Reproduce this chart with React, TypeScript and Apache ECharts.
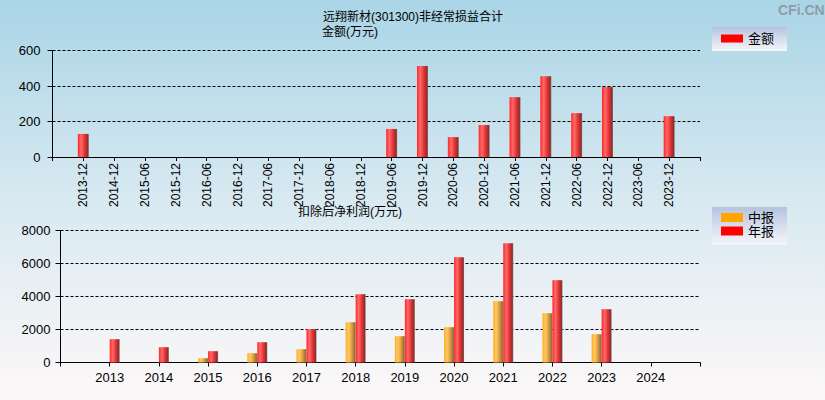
import React, { useEffect, useRef } from "react";
import * as echarts from "echarts";

const topCategories = [
  "2013-12", "2014-12", "2015-06", "2015-12", "2016-06", "2016-12", "2017-06",
  "2017-12", "2018-06", "2018-12", "2019-06", "2019-12", "2020-06", "2020-12",
  "2021-06", "2021-12", "2022-06", "2022-12", "2023-06", "2023-12",
];
const topValues: (number | null)[] = [
  130, null, null, null, null, null, null, null, null, null,
  158, 512, 112, 180, 337, 455, 247, 394, null, 230,
];
const bottomYears = ["2013", "2014", "2015", "2016", "2017", "2018", "2019", "2020", "2021", "2022", "2023", "2024"];
const interimValues: (number | null)[] = [null, null, 260, 564, 806, 2442, 1594, 2139, 3715, 2988, 1715, null];
const annualValues: (number | null)[] = [1412, 927, 685, 1230, 2018, 4139, 3836, 6382, 7230, 4988, 3230, null];
const topTicks = { min: 0, max: 600, interval: 200 };
const bottomTicks = { min: 0, max: 8000, interval: 2000 };

const FONT = "'Liberation Sans', Arial, 'Noto Sans CJK SC', sans-serif";

const redGrad = () =>
  new echarts.graphic.LinearGradient(0, 0, 1, 0, [
    { offset: 0, color: "#ff2626" },
    { offset: 0.3, color: "#ff6a6a" },
    { offset: 0.6, color: "#e63636" },
    { offset: 0.9, color: "#962a2a" },
    { offset: 1, color: "#7a7a7a" },
  ]);
const orangeGrad = () =>
  new echarts.graphic.LinearGradient(0, 0, 1, 0, [
    { offset: 0, color: "#ffae1e" },
    { offset: 0.3, color: "#ffc864" },
    { offset: 0.6, color: "#e0a040" },
    { offset: 0.9, color: "#9c7030" },
    { offset: 1, color: "#808080" },
  ]);
const legendBg = () =>
  new echarts.graphic.LinearGradient(0, 0, 0, 1, [
    { offset: 0, color: "#b6c3df" },
    { offset: 1, color: "#f6f6fa" },
  ]);

export default function App() {
  const ref = useRef<HTMLDivElement>(null);
  useEffect(() => {
    document.body.style.margin = "0";
    if (!ref.current) return;
    const chart = echarts.init(ref.current, null, { renderer: "svg" });
    const topCats = ["", ...topCategories, ""];
    const topData = [null, ...topValues, null];
    const botCats = ["", ...bottomYears, ""];
    const interimData = [null, ...interimValues, null];
    const annualData = [null, ...annualValues, null];

    const axisLine = { show: true, lineStyle: { color: "#000", width: 1 } };
    const splitLine = { show: true, lineStyle: { color: "#000", type: [3, 2], width: 1 } };
    const labelStyle = { color: "#000", fontSize: 12, fontFamily: FONT };
    const plain = (v: number) => String(v);

    chart.setOption({
      animation: false,
      backgroundColor: new echarts.graphic.LinearGradient(0, 0, 0, 1, [
        { offset: 0, color: "#aad5e6" },
        { offset: 0.5, color: "#d8e9f1" },
        { offset: 1, color: "#fdf8f8" },
      ]),
      textStyle: { fontFamily: FONT },
      grid: [
        { left: 52.5, right: 125, top: 50.5, height: 106.5, containLabel: false },
        { left: 60.5, right: 125, top: 230.5, height: 132, containLabel: false },
      ],
      xAxis: [
        {
          gridIndex: 0,
          type: "category",
          data: topCats,
          boundaryGap: false,
          axisLine,
          axisTick: { show: true, length: 4, interval: 0, lineStyle: { color: "#000" } },
          axisLabel: { ...labelStyle, rotate: 90, interval: 0, margin: 6 },
          splitLine: { show: false },
        },
        {
          gridIndex: 1,
          type: "category",
          data: botCats,
          boundaryGap: false,
          axisLine,
          axisTick: { show: true, length: 4, interval: 0, lineStyle: { color: "#000" } },
          axisLabel: { ...labelStyle, fontSize: 13, interval: 0, margin: 8 },
          splitLine: { show: false },
        },
      ],
      yAxis: [
        {
          gridIndex: 0,
          type: "value",
          ...topTicks,
          axisLine,
          axisTick: { show: true, length: 5, lineStyle: { color: "#000" } },
          axisLabel: { ...labelStyle, fontSize: 13, margin: 12, formatter: plain },
          splitLine,
        },
        {
          gridIndex: 1,
          type: "value",
          ...bottomTicks,
          axisLine,
          axisTick: { show: true, length: 5, lineStyle: { color: "#000" } },
          axisLabel: { ...labelStyle, fontSize: 13, margin: 10, formatter: plain },
          splitLine,
        },
      ],
      legend: [
        {
          data: [{ name: "金额", icon: "rect", itemStyle: { color: "#ff0000" } }],
          left: 721, top: 32, padding: 0, itemWidth: 22, itemHeight: 8, itemGap: 0,
          textStyle: { fontSize: 13, color: "#000" },
          selectedMode: false, z: 10,
        },
        {
          data: [{ name: "中报", icon: "rect", itemStyle: { color: "#ffa500" } }],
          left: 721, top: 211, padding: 0, itemWidth: 22, itemHeight: 9, itemGap: 0,
          textStyle: { fontSize: 13, color: "#000" },
          selectedMode: false, z: 10,
        },
        {
          data: [{ name: "年报", icon: "rect", itemStyle: { color: "#ff0000" } }],
          left: 721, top: 224.5, padding: 0, itemWidth: 22, itemHeight: 9, itemGap: 0,
          textStyle: { fontSize: 13, color: "#000" },
          selectedMode: false, z: 10,
        },
      ],
      graphic: [
        { type: "rect", shape: { x: 712, y: 27, width: 75, height: 24 }, style: { fill: legendBg() }, z: 1 },
        { type: "rect", shape: { x: 712, y: 207, width: 75, height: 38 }, style: { fill: legendBg() }, z: 1 },
        {
          type: "text", x: 323, y: 11,
          style: { text: "远翔新材(301300)非经常损益合计", fontSize: 12, fill: "#000", fontFamily: FONT },
        },
        {
          type: "text", x: 322, y: 26,
          style: { text: "金额(万元)", fontSize: 12, fill: "#000", fontFamily: FONT },
        },
        {
          type: "text", x: 298, y: 206,
          style: { text: "扣除后净利润(万元)", fontSize: 12, fill: "#000", fontFamily: FONT },
        },
        {
          type: "text", x: 778, y: 3,
          style: { text: "CFi.CN", fontSize: 14, fontWeight: "bold", fill: "#8e9ca8", fontFamily: FONT },
        },
      ],
      series: [
        {
          name: "金额", type: "bar", xAxisIndex: 0, yAxisIndex: 0,
          data: topData, barWidth: 11,
          itemStyle: { color: redGrad() },
        },
        {
          name: "中报", type: "bar", xAxisIndex: 1, yAxisIndex: 1,
          data: interimData, barWidth: 10, barGap: "0%",
          itemStyle: { color: orangeGrad() },
        },
        {
          name: "年报", type: "bar", xAxisIndex: 1, yAxisIndex: 1,
          data: annualData, barWidth: 10, barGap: "0%",
          itemStyle: { color: redGrad() },
        },
      ],
    });
    return () => chart.dispose();
  }, []);
  return <div ref={ref} style={{ width: 825, height: 400 }} />;
}
